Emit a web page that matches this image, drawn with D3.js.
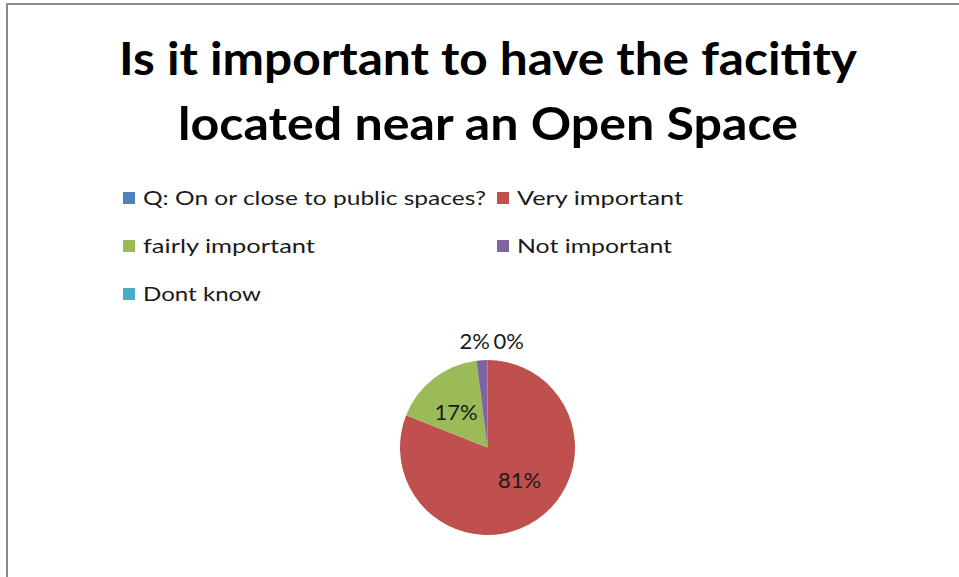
<!DOCTYPE html>
<html>
<head>
<meta charset="utf-8">
<script src="https://cdn.jsdelivr.net/npm/d3@7"></script>
<style>
  html, body { margin: 0; padding: 0; background: #fff; }
  svg { display: block; }
  text { font-family: Lato, "Open Sans", sans-serif; }
</style>
</head>
<body>
<svg id="chart" width="959" height="577"></svg>
<script>
const titleLines = ["Is it important to have the facitity", "located near an Open Space"];
const categories = ["Q: On or close to public spaces?", "Very important", "fairly important", "Not important", "Dont know"];
const values = [null, 81, 17, 2, 0];
const colors = ["#4F81BD", "#C0504D", "#9BBB59", "#8064A2", "#4BACC6"];

const W = 959, H = 577;
const svg = d3.select("#chart");

// frame
svg.append("rect").attr("x", 7).attr("y", 4).attr("width", W + 20).attr("height", H + 20)
  .attr("fill", "#fff").attr("stroke", "#8a8a8a").attr("stroke-width", 2);

// helper to fit text to a target width
function fit(sel, target) {
  const n = sel.node();
  const w = n.getComputedTextLength();
  if (Math.abs(w - target) > 1) sel.attr("textLength", target).attr("lengthAdjust", "spacingAndGlyphs");
}

// title
const titleWidths = [738, 620];
const titleY = [75, 140];
titleLines.forEach((t, i) => {
  const s = svg.append("text").attr("x", 488).attr("y", titleY[i])
    .attr("text-anchor", "middle").attr("font-weight", "bold")
    .attr("font-size", 46).attr("fill", "#000").text(t);
  fit(s, titleWidths[i]);
});

// legend
const legendCols = [123, 497];
const legendRowY = [198, 246, 294];
const legendWidths = [343, 166, 172, 155, 118];
const legend = svg.append("g");
categories.forEach((c, i) => {
  const col = i % 2, row = Math.floor(i / 2);
  const x = legendCols[col], y = legendRowY[row];
  legend.append("rect").attr("x", x).attr("y", y - 6).attr("width", 12).attr("height", 12)
    .attr("fill", colors[i]);
  const s = legend.append("text").attr("x", x + 20).attr("y", y + 7)
    .attr("font-size", 20).attr("fill", "#1a1a1a").text(c);
  fit(s, legendWidths[i]);
});

// pie
const cx = 487.5, cy = 447.5, r = 87.5;
const data = categories.map((c, i) => ({ cat: c, value: values[i] == null ? 0 : values[i], hasLabel: values[i] != null, color: colors[i] }));
const total = d3.sum(data, d => d.value);
const pie = d3.pie().sort(null).value(d => d.value);
const arcs = pie(data);
const arc = d3.arc().innerRadius(0).outerRadius(r);
const g = svg.append("g").attr("transform", `translate(${cx},${cy})`);
g.selectAll("path").data(arcs.filter(a => a.data.value > 0)).join("path")
  .attr("d", arc).attr("fill", d => d.data.color);

const fmt = d => Math.round(d.data.value / total * 100) + "%";
const inner = d3.arc().innerRadius(r * 0.55).outerRadius(r * 0.55);
arcs.filter(a => a.data.hasLabel).forEach(a => {
  const frac = (a.endAngle - a.startAngle) / (2 * Math.PI);
  if (frac >= 0.1) {
    const [x, y] = inner.centroid(a);
    g.append("text").attr("x", x + (a.data.value > 50 ? 5 : -2)).attr("y", y + 8 + (a.data.value > 50 ? -7 : 3))
      .attr("text-anchor", "middle").attr("font-size", 22).attr("fill", "#1a1a1a").text(fmt(a));
  }
});
// small slices: labels outside, laid out in a row above the pie
const small = arcs.filter(a => a.data.hasLabel && (a.endAngle - a.startAngle) / (2 * Math.PI) < 0.1);
small.forEach((a, k) => {
  const anchor = k === 0 ? "end" : "start";
  const x = k === 0 ? 2.5 : 6;
  g.append("text").attr("x", x).attr("y", -r - 11)
    .attr("text-anchor", anchor).attr("font-size", 22).attr("fill", "#1a1a1a").text(fmt(a));
});
</script>
</body>
</html>
